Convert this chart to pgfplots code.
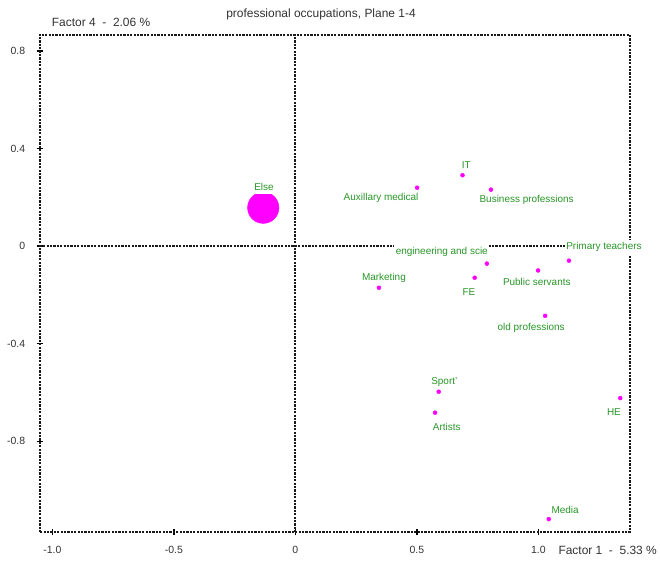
\documentclass[border=0pt]{standalone}
\usepackage{pgfplots}
\usepackage{pgfplotstable}
\pgfplotsset{compat=1.18}
\usepackage{fontspec}
\setmainfont{Liberation Sans}

\definecolor{lblgreen}{RGB}{40,150,40}
\definecolor{ptmag}{RGB}{255,0,255}
\definecolor{txtgray}{RGB}{50,50,50}

% Category coordinates on factors 1 and 4, with label offsets (bp)
\pgfplotstableread{
x      y       dx     dy     label
0.688  0.290   3.7    10.3   IT
0.501  0.239  -36.0  -10.0   {Auxillary medical}
0.805  0.231   35.7  -10.3   {Business professions}
0.788  -0.072 -45.0   12.0   {engineering and scie}
1.126  -0.060  35.0   13.4   {Primary teachers}
0.999  -0.100  -1.3  -11.4   {Public servants}
0.738  -0.130  -5.7  -14.0   FE
0.344  -0.171   5.0   10.0   Marketing
1.028  -0.286 -14.0  -12.0   {old professions}
0.590  -0.597   5.6   10.0   Sport'
0.575  -0.683  11.7  -14.6   Artists
1.337  -0.623  -6.3  -13.7   HE
1.043  -1.119  16.3    9.3   Media
}\points

\pgfplotstableread{
x       y      dx    dy    label
-0.132  0.157  0.7   20.4  Else
}\bigpoint

\tikzset{dotline/.style={draw=black!90, line width=2bp, dash pattern=on 2.2bp off 1.2bp}}

\pgfplotsset{
  labelled points/.style={
    only marks, mark=*, color=ptmag,
    point meta=explicit symbolic,
    nodes near coords,
    visualization depends on={\thisrow{dx}\as\ptdx},
    visualization depends on={\thisrow{dy}\as\ptdy},
    every node near coord/.append style={
      anchor=center, text=lblgreen, fill=white, inner xsep=1.5bp, inner ysep=3bp,
      xshift=\ptdx bp, yshift=\ptdy bp},
  },
}

\begin{document}
\begin{tikzpicture}[font=\fontsize{10}{12}\selectfont]
\begin{axis}[
  at={(0,0)}, anchor=south west,
  scale only axis, width=590bp, height=497.6bp,
  xmin=-1.052, xmax=1.376, ymin=-1.173, ymax=0.866,
  xtick={-1,-0.5,0,0.5,1}, xticklabels={-1.0,-0.5,0,0.5,1.0},
  ytick={-0.8,-0.4,0,0.4,0.8}, yticklabels={-0.8,-0.4,0,0.4,0.8},
  tick pos=left,
  axis line style={dotline},
  tick style={black, line width=1.5bp},
  tick align=center, major tick length=6bp,
  ticklabel style={font=\fontsize{10.5}{12}\selectfont, text=txtgray},
  xticklabel style={anchor=center, inner sep=0pt, yshift=-14.4bp},
  yticklabel style={anchor=east, inner sep=0pt, xshift=-11.4bp},
  clip=false,
]
\coordinate (o) at (rel axis cs:0,0);
% zero lines through the origin
\draw[dotline] (axis cs:0,-1.173) -- (axis cs:0,0.866);
\draw[dotline] (axis cs:-1.052,0) -- (axis cs:1.376,0);

\addplot[labelled points, mark size=2bp] table[x=x, y=y, meta=label] {\points};
\addplot[labelled points, mark size=15.7bp] table[x=x, y=y, meta=label] {\bigpoint};
\end{axis}

\node[font=\fontsize{12}{14}\selectfont, text=txtgray] at ([shift={(281.3bp,517.8bp)}]o)
  {professional occupations, Plane 1-4};
\node[anchor=west, inner sep=0pt, font=\fontsize{12}{14}\selectfont, text=txtgray]
  at ([shift={(12bp,509.8bp)}]o) {Factor 4~~-~~2.06 \%};
\node[anchor=west, inner sep=0pt, font=\fontsize{12}{14}\selectfont, text=txtgray]
  at ([shift={(518.6bp,-18.4bp)}]o) {Factor 1~~-~~5.33 \%};

\pgfresetboundingbox
\path[use as bounding box] ([shift={(-39.7bp,-28.7bp)}]o) rectangle ++(660bp,561bp);
\end{tikzpicture}
\end{document}
